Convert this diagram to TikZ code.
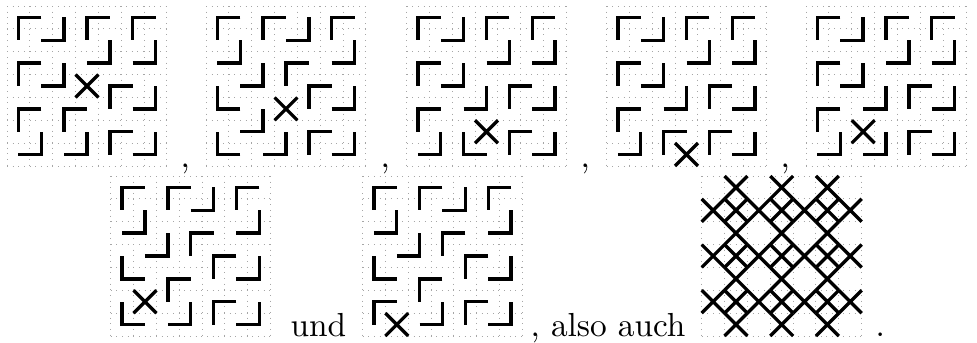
\documentclass[tikz,border=0pt]{standalone}
\usepackage{tikz}

\begin{document}
\begin{tikzpicture}[x=0.3pt, y=-0.3pt]
\tikzstyle{dots}=[black!35, line width=0.3pt, dash pattern=on 0.3pt off 1.4pt]
\tikzstyle{tromino}=[line width=1pt, line join=miter]
\tikzstyle{hole}=[line width=1pt]
\tikzstyle{word}=[inner sep=0pt, anchor=base west]
\useasboundingbox (0,0) rectangle (977,342);
% seven 7x7 boards: corner, missing cell, then the L pieces (corner col/row, arm dx/dy)
\foreach \gx/\gy/\hc/\hr/\tiles in {
  7/6/3/3/{0/0/1/1, 2/1/-1/-1, 3/0/1/1, 5/0/1/1, 4/2/-1/-1, 6/2/-1/-1, 0/2/1/1, 2/3/-1/-1, 4/3/1/1, 6/4/-1/-1, 0/4/1/1, 2/4/1/1, 1/6/-1/-1, 3/6/-1/-1, 4/5/1/1, 6/6/-1/-1},
  206/6/3/4/{0/0/1/1, 2/0/1/1, 4/1/-1/-1, 5/0/1/1, 1/2/-1/-1, 6/2/-1/-1, 2/3/-1/-1, 3/2/1/1, 0/4/1/-1, 4/3/1/1, 6/4/-1/-1, 2/5/-1/-1, 0/6/1/-1, 3/6/-1/-1, 4/5/1/1, 6/6/-1/-1},
  406.5/6/3/5/{0/0/1/1, 2/1/-1/-1, 3/0/1/1, 5/0/1/1, 4/2/-1/-1, 6/2/-1/-1, 0/2/1/1, 2/3/-1/-1, 3/4/-1/-1, 4/3/1/1, 6/4/-1/-1, 0/4/1/1, 1/6/-1/-1, 2/6/1/-1, 4/5/1/1, 6/6/-1/-1},
  606.5/6/3/6/{0/0/1/1, 2/1/-1/-1, 3/0/1/1, 5/0/1/1, 4/2/-1/-1, 6/2/-1/-1, 0/2/1/1, 2/3/-1/-1, 3/4/-1/-1, 4/3/1/1, 6/4/-1/-1, 0/4/1/1, 1/6/-1/-1, 2/5/1/1, 4/5/1/1, 6/6/-1/-1},
  806/6/2/5/{0/0/1/1, 2/1/-1/-1, 3/0/1/1, 5/0/1/1, 4/2/-1/-1, 6/2/-1/-1, 0/2/1/1, 2/3/-1/-1, 3/4/-1/-1, 4/3/1/1, 6/4/-1/-1, 0/4/1/1, 1/6/-1/-1, 3/6/-1/-1, 4/5/1/1, 6/6/-1/-1},
  110.7/176/1/5/{0/0/1/1, 2/0/1/1, 4/1/-1/-1, 5/0/1/1, 1/2/-1/-1, 6/2/-1/-1, 2/3/-1/-1, 3/2/1/1, 0/4/1/-1, 4/3/1/1, 6/4/-1/-1, 2/4/1/1, 0/6/1/-1, 3/6/-1/-1, 4/5/1/1, 6/6/-1/-1},
  362.5/176/1/6/{0/0/1/1, 2/0/1/1, 4/1/-1/-1, 5/0/1/1, 1/2/-1/-1, 6/2/-1/-1, 2/3/-1/-1, 3/2/1/1, 0/4/1/-1, 4/3/1/1, 6/4/-1/-1, 2/4/1/1, 0/5/1/1, 3/6/-1/-1, 4/5/1/1, 6/6/-1/-1}}{
  \begin{scope}[shift={(\gx,\gy)}, x=6.857pt, y=-6.857pt, shift={(.5,.5)}]
    \foreach \k in {0,...,7} {
      \draw[dots] (\k-.5,-.5) -- (\k-.5,6.5);
      \draw[dots] (-.5,\k-.5) -- (6.5,\k-.5);
    }
    \foreach \c/\r/\dx/\dy in \tiles
      \draw[tromino] (\c+\dx,\r) -- (\c,\r) -- (\c,\r+\dy);
    \draw[hole] (\hc-.5,\hr-.5) -- (\hc+.5,\hr+.5) (\hc-.5,\hr+.5) -- (\hc+.5,\hr-.5);
  \end{scope}
}
% all cells that can be left out
\begin{scope}[shift={(701.7,176)}, x=6.857pt, y=-6.857pt, shift={(.5,.5)}]
  \foreach \k in {0,...,7} {
    \draw[dots] (\k-.5,-.5) -- (\k-.5,6.5);
    \draw[dots] (-.5,\k-.5) -- (6.5,\k-.5);
  }
  \foreach \r in {1,3,5}
    \foreach \c in {0,...,6}
      \draw[hole] (\c-.5,\r-.5) -- (\c+.5,\r+.5) (\c-.5,\r+.5) -- (\c+.5,\r-.5);
  \foreach \r in {0,2,4,6}
    \foreach \c in {1,3,5}
      \draw[hole] (\c-.5,\r-.5) -- (\c+.5,\r+.5) (\c-.5,\r+.5) -- (\c+.5,\r-.5);
\end{scope}
\node[word] (sep1) at (180,167) {,};
\node[word] (sep2) at (380,167) {,};
\node[word] (sep3) at (580,167) {,};
\node[word] (sep4) at (780,167) {,};
\node[word] (und) at (290,336) {und};
\node[word] (also) at (530,336) {, also auch};
\node[word] (stop) at (875,336) {.};
\end{tikzpicture}
\end{document}
